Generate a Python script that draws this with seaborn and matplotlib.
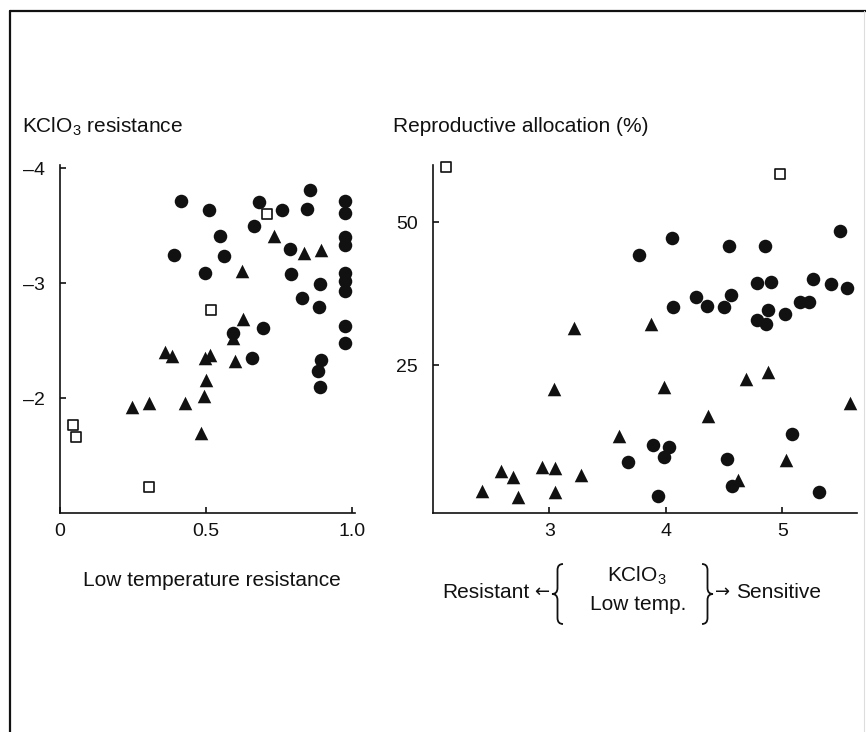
import pandas as pd
import matplotlib.pyplot as plt
import seaborn as sns
from matplotlib.lines import Line2D
from matplotlib.patches import PathPatch
from matplotlib.path import Path

# Left panel: low temperature resistance vs KClO3 resistance
lt_circle_x = [0.413, 0.511, 0.392, 0.547, 0.563, 0.495, 0.680, 0.665, 0.760, 0.855, 0.847,
               0.787, 0.792, 0.827, 0.889, 0.886, 0.592, 0.695, 0.658, 0.894, 0.882, 0.891,
               0.976, 0.976, 0.976, 0.976, 0.976, 0.976, 0.976, 0.976, 0.976]
lt_circle_y = [-3.72, -3.64, -3.25, -3.41, -3.24, -3.09, -3.71, -3.50, -3.64, -3.81, -3.65,
               -3.30, -3.08, -2.87, -2.99, -2.79, -2.57, -2.61, -2.35, -2.33, -2.24, -2.10,
               -3.72, -3.61, -3.40, -3.33, -3.09, -3.02, -2.93, -2.63, -2.48]
lt_tri_x = [0.248, 0.303, 0.429, 0.493, 0.501, 0.483, 0.360, 0.385, 0.495, 0.514, 0.594,
            0.599, 0.627, 0.624, 0.734, 0.834, 0.893]
lt_tri_y = [-1.92, -1.96, -1.96, -2.02, -2.16, -1.70, -2.40, -2.37, -2.35, -2.38, -2.52,
            -2.32, -2.69, -3.11, -3.41, -3.26, -3.29]
lt_sq_x = [0.043, 0.055, 0.305, 0.517, 0.709]
lt_sq_y = [-1.77, -1.66, -1.23, -2.77, -3.60]

# Right panel: resistance score vs reproductive allocation (%)
ra_circle_x = [3.77, 4.05, 4.06, 4.26, 4.35, 4.50, 4.56, 4.54, 4.85, 4.78, 4.90, 4.88, 4.78,
               4.86, 5.02, 5.15, 5.23, 5.26, 5.42, 5.55, 5.49, 3.67, 3.89, 4.03, 3.98, 4.52,
               4.57, 3.93, 5.08, 5.31]
ra_circle_y = [44.2, 47.3, 35.1, 36.9, 35.3, 35.2, 37.3, 45.8, 45.9, 39.4, 39.6, 34.7, 32.8,
               32.2, 33.9, 36.0, 36.0, 40.1, 39.1, 38.5, 48.4, 8.1, 11.0, 10.6, 8.9, 8.5,
               3.8, 2.0, 13.0, 2.8]
ra_tri_x = [2.42, 2.58, 2.69, 2.73, 2.94, 3.05, 3.05, 3.27, 3.21, 3.04, 3.60, 3.87, 3.98,
            4.36, 4.69, 4.88, 4.62, 5.03, 5.58]
ra_tri_y = [2.9, 6.4, 5.4, 1.9, 7.1, 6.9, 2.7, 5.8, 31.4, 20.8, 12.5, 32.2, 21.1,
            16.0, 22.5, 23.7, 4.9, 8.3, 18.3]
ra_sq_x = [2.11, 4.98]
ra_sq_y = [59.7, 58.4]

left_xticks = [0, 0.5, 1.0]
left_xlabels = ['0', '0.5', '1.0']
left_yticks = [-4, -3, -2]
left_ylabels = ['\u20134', '\u20133', '\u20132']
right_xticks = [3, 4, 5]
right_yticks = [25, 50]

INK = '#111111'

sns.set_style('ticks')
plt.rcParams['font.family'] = ['Liberation Sans', 'DejaVu Sans']
plt.rcParams['mathtext.fontset'] = 'custom'
plt.rcParams['mathtext.rm'] = 'Liberation Sans'
plt.rcParams['mathtext.it'] = 'Liberation Sans'

W, H = 866, 732
fig = plt.figure(figsize=(W / 100, H / 100), dpi=100)


def px_axes(x0, y0, x1, y1):
    # axes from a pixel box (origin top-left)
    return fig.add_axes([x0 / W, 1 - y1 / H, (x1 - x0) / W, (y1 - y0) / H])


def style_axes(ax):
    sns.despine(ax=ax)
    for s in ['left', 'bottom']:
        ax.spines[s].set_linewidth(1.2)
        ax.spines[s].set_color(INK)
    ax.tick_params(direction='in', length=4, width=1.2, colors=INK, labelsize=14)
    ax.tick_params(axis='y', pad=11)
    ax.tick_params(axis='x', pad=7)


def draw_groups(ax, cx, cy, tx, ty, sx, sy):
    sns.scatterplot(x=cx, y=cy, ax=ax, marker='o', s=95, color=INK,
                    edgecolor=INK, linewidth=0, zorder=3)
    sns.scatterplot(x=tx, y=ty, ax=ax, marker='^', s=95, color=INK,
                    edgecolor=INK, linewidth=0, zorder=3)
    sns.scatterplot(x=sx, y=sy, ax=ax, marker='s', s=42, color='white',
                    edgecolor=INK, linewidth=1.2, zorder=3, clip_on=False)


# Left panel
ax1 = px_axes(60, 165, 355, 513)
draw_groups(ax1, lt_circle_x, lt_circle_y, lt_tri_x, lt_tri_y, lt_sq_x, lt_sq_y)
ax1.set_xlim(0, 1.01)
ax1.set_ylim(-1.0, -4.03)
ax1.set_xticks(left_xticks)
ax1.set_xticklabels(left_xlabels)
ax1.set_yticks(left_yticks)
ax1.set_yticklabels(left_ylabels)
style_axes(ax1)

# Right panel
ax2 = px_axes(433, 165, 857, 513)
draw_groups(ax2, ra_circle_x, ra_circle_y, ra_tri_x, ra_tri_y, ra_sq_x, ra_sq_y)
ax2.set_xlim(2.0, 5.64)
ax2.set_ylim(-0.9, 60)
ax2.set_xticks(right_xticks)
ax2.set_yticks(right_yticks)
style_axes(ax2)


def ftext(x, y, s, **kw):
    kw.setdefault('fontsize', 15)
    kw.setdefault('color', INK)
    fig.text(x / W, 1 - y / H, s, **kw)


def brace(x_tip, x_back, y0, y1):
    # curly brace drawn in pixel space, tip at x_tip
    ym = (y0 + y1) / 2
    xm = (x_tip + x_back) / 2
    pts = [(x_back, y0), (xm, y0), (xm, y0 + 6), (xm, ym - 6), (xm, ym), (x_tip, ym),
           (xm, ym), (xm, ym + 6), (xm, y1 - 6), (xm, y1), (x_back, y1)]
    codes = [Path.MOVETO, Path.CURVE3, Path.CURVE3, Path.LINETO, Path.CURVE3, Path.CURVE3,
             Path.CURVE3, Path.CURVE3, Path.LINETO, Path.CURVE3, Path.CURVE3]
    verts = [(x / W, 1 - y / H) for x, y in pts]
    fig.add_artist(PathPatch(Path(verts, codes), transform=fig.transFigure,
                             fill=False, edgecolor=INK, linewidth=1.3))


ftext(22, 127, 'KClO$_3$ resistance', va='center', ha='left')
ftext(393, 127, 'Reproductive allocation (%)', va='center', ha='left')
ftext(212, 581, 'Low temperature resistance', va='center', ha='center')

ftext(530, 592, 'Resistant', va='center', ha='right')
ftext(542, 592, '\u2190', va='center', ha='center', fontsize=13, family='DejaVu Sans')
ftext(637, 576, 'KClO$_3$', va='center', ha='center')
ftext(638, 604, 'Low temp.', va='center', ha='center')
brace(552, 563, 564, 624)
brace(713, 702, 564, 624)
ftext(723, 592, '\u2192', va='center', ha='center', fontsize=13, family='DejaVu Sans')
ftext(736, 592, 'Sensitive', va='center', ha='left')

# Border of the figure panel
fig.add_artist(Line2D([10 / W, 1], [1 - 11 / H, 1 - 11 / H], color=INK, linewidth=1.6))
fig.add_artist(Line2D([10 / W, 10 / W], [0, 1 - 11 / H], color=INK, linewidth=1.6))
fig.add_artist(Line2D([864 / W, 864 / W], [0, 1 - 11 / H], color='#dddddd', linewidth=0.8))

fig.savefig('out.png', dpi=100, facecolor='white')
